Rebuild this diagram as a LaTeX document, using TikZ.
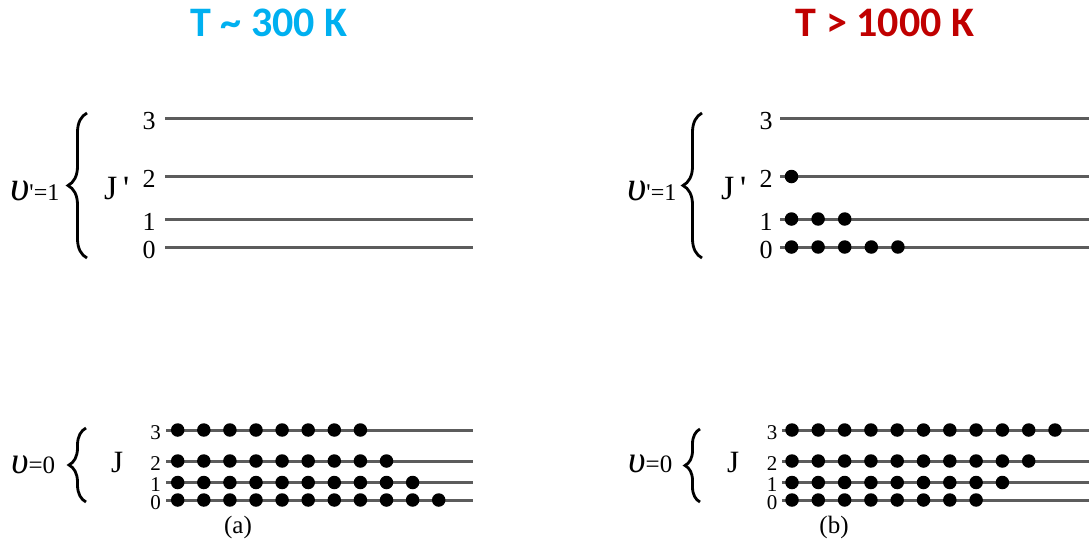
\documentclass[tikz,border=0pt]{standalone}
\usepackage{fontspec}
\setmainfont{Liberation Serif}
\newfontfamily\titlefont{Carlito}
\usetikzlibrary{decorations.pathreplacing}
\definecolor{cyanT}{RGB}{0,176,240}
\definecolor{redT}{RGB}{192,0,0}
\definecolor{lvl}{RGB}{92,92,92}
\tikzset{
  level/.style={draw=lvl, line width=3pt},
  dot/.style={circle, fill=black, inner sep=0pt, minimum size=13.5pt},
  lab/.style={inner sep=0pt},
  bigbrace/.style={decorate, decoration={brace, amplitude=#1}, line width=2.8pt},
  title/.style={inner sep=0pt, font=\titlefont\bfseries\fontsize{42}{42}\selectfont},
}
% #1 name, #2 y, #3 label x, #4 line start x, #5 line end x, #6 label, #7 dots, #8 first dot x, #9 spacing
\newcommand{\lvrow}[9]{%
  \node[lab] (#1l) at (#3,#2+2.5) {#6};
  \coordinate (#1s) at (#4,#2);
  \coordinate (#1e) at (#5,#2);
  \draw[level] (#1s) -- (#1e);
  \ifnum#7>0
    \foreach \k in {1,...,#7} {\node[dot] (#1d\k) at ({#8+(\k-1)*#9},#2) {};}
  \fi
}
\begin{document}
\begin{tikzpicture}[x=1pt,y=-1pt]
\useasboundingbox (0,0) rectangle (1089,547);

% titles
\node[title, text=cyanT] (ta) at (269,23) {T \textasciitilde{} 300 K};
\node[title, text=redT] (tb) at (885,23) {T > 1000 K};

% ----- panel (a) -----
\begin{scope}[lab/.append style={font=\fontsize{26}{26}\selectfont}]
\lvrow{au3}{118.5}{149}{165}{473}{3}{0}{0}{0}
\lvrow{au2}{176.5}{149}{165}{473}{2}{0}{0}{0}
\lvrow{au1}{219}{149}{165}{473}{1}{0}{0}{0}
\lvrow{au0}{247}{149}{165}{473}{0}{0}{0}{0}
\end{scope}

\begin{scope}[lab/.append style={font=\fontsize{21}{21}\selectfont}]
\lvrow{al3}{430}{155.5}{166}{473}{3}{8}{177.7}{26.1}
\lvrow{al2}{461}{155.5}{166}{473}{2}{9}{177.7}{26.1}
\lvrow{al1}{482.5}{155.5}{166}{473}{1}{10}{177.7}{26.1}
\lvrow{al0}{500}{155.5}{166}{473}{0}{11}{177.7}{26.1}
\end{scope}

\coordinate (abu1) at (87,258);
\coordinate (abu2) at (87,113);
\draw[bigbrace=19pt] (abu1) -- (abu2);
\coordinate (abl1) at (86,502);
\coordinate (abl2) at (86,428);
\draw[bigbrace=17pt] (abl1) -- (abl2);

\node[lab, anchor=base west] (avu) at (10,200)
  {{\fontsize{42}{42}\selectfont\itshape υ}{\fontsize{24}{24}\selectfont\textquotesingle=1}};
\node[lab, anchor=base west] (avl) at (11,473)
  {{\fontsize{38}{38}\selectfont\itshape υ}{\fontsize{25}{25}\selectfont=0}};
\node[lab, anchor=base west, font=\fontsize{34}{34}\selectfont] (aJu) at (104,199) {J\,\textquotesingle};
\node[lab, anchor=base west, font=\fontsize{31}{31}\selectfont] (aJl) at (111,472) {J};
\node[lab, font=\fontsize{25}{25}\selectfont] (capa) at (238,527) {(a)};

% ----- panel (b) -----
\begin{scope}[lab/.append style={font=\fontsize{26}{26}\selectfont}]
\lvrow{bu3}{118.5}{766}{780}{1089}{3}{0}{0}{0}
\lvrow{bu2}{176.5}{766}{780}{1089}{2}{1}{791.5}{26.6}
\lvrow{bu1}{219}{766}{780}{1089}{1}{3}{791.5}{26.6}
\lvrow{bu0}{247}{766}{780}{1089}{0}{5}{791.5}{26.6}
\end{scope}

\begin{scope}[lab/.append style={font=\fontsize{21}{21}\selectfont}]
\lvrow{bl3}{430}{772}{782}{1089}{3}{11}{792}{26.3}
\lvrow{bl2}{461}{772}{782}{1089}{2}{10}{792}{26.3}
\lvrow{bl1}{482.5}{772}{782}{1089}{1}{9}{792}{26.3}
\lvrow{bl0}{500}{772}{782}{1089}{0}{8}{792}{26.3}
\end{scope}

\coordinate (bbu1) at (702,258);
\coordinate (bbu2) at (702,113);
\draw[bigbrace=19pt] (bbu1) -- (bbu2);
\coordinate (bbl1) at (700,502);
\coordinate (bbl2) at (700,429);
\draw[bigbrace=15pt] (bbl1) -- (bbl2);

\node[lab, anchor=base west] (bvu) at (627,200)
  {{\fontsize{42}{42}\selectfont\itshape υ}{\fontsize{24}{24}\selectfont\textquotesingle=1}};
\node[lab, anchor=base west] (bvl) at (628,472)
  {{\fontsize{38}{38}\selectfont\itshape υ}{\fontsize{25}{25}\selectfont=0}};
\node[lab, anchor=base west, font=\fontsize{34}{34}\selectfont] (bJu) at (721,199) {J\,\textquotesingle};
\node[lab, anchor=base west, font=\fontsize{31}{31}\selectfont] (bJl) at (727,472) {J};
\node[lab, font=\fontsize{25}{25}\selectfont] (capb) at (834,527) {(b)};
\end{tikzpicture}
\end{document}
